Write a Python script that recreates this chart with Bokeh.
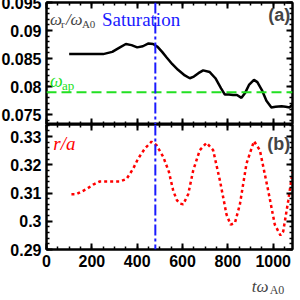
from bokeh.plotting import figure
from bokeh.models import LinearAxis, FixedTicker, Span, Label, Range1d
from bokeh.layouts import column
from bokeh.embed import file_html
from bokeh.resources import INLINE

# ---- data ----
t_freq = [100, 150, 200, 250, 290, 320, 350, 375, 400, 425, 450, 470, 490, 510, 530,
          555, 580, 610, 632, 650, 670, 691, 720, 745, 770, 786, 805, 823, 840, 860,
          875, 893, 915, 930, 950, 970, 992, 1010, 1037, 1055, 1072, 1092]
w_freq = [0.0858, 0.0858, 0.0858, 0.0858, 0.0862, 0.0869, 0.0876, 0.0874, 0.0870, 0.0872,
          0.0877, 0.0876, 0.0871, 0.0862, 0.0852, 0.0840, 0.0830, 0.0820, 0.0815, 0.0818,
          0.0824, 0.0829, 0.0826, 0.0815, 0.0797, 0.0786, 0.0786, 0.0785, 0.0785, 0.0780,
          0.0788, 0.0803, 0.0812, 0.0808, 0.0794, 0.0775, 0.0763, 0.0764, 0.0765, 0.0764,
          0.0763, 0.0771]

t_r = [110, 132, 176, 206, 235, 280, 324, 353, 382, 404, 434, 463, 485, 515, 540, 559,
       575, 588, 603, 625, 647, 676, 706, 735, 765, 794, 812, 831, 853, 882, 915, 941,
       978, 1007, 1032, 1044, 1066, 1085]
r_a = [0.3096, 0.3096, 0.3114, 0.3130, 0.3141, 0.3141, 0.3141, 0.3150, 0.3186, 0.3222,
       0.3258, 0.3282, 0.3270, 0.3228, 0.3175, 0.3108, 0.3075, 0.3063, 0.3060, 0.3096,
       0.3180, 0.3252, 0.3278, 0.3252, 0.3144, 0.3024, 0.2988, 0.2994, 0.3060, 0.3204,
       0.3284, 0.3252, 0.3108, 0.2988, 0.2950, 0.2964, 0.3072, 0.3174]

t_sat = 480
w_ap = 0.079

x_ticks = [0, 200, 400, 600, 800, 1000]
x_labels = ["0", "200", "400", "600", "800", "1000"]
x_minor = list(range(0, 1101, 50))
ya_ticks = [0.075, 0.08, 0.085, 0.09, 0.095]
ya_labels = ["0.075", "0.08", "0.085", "0.09", "0.095"]
ya_minor = [0.073 + 0.001 * i for i in range(23)]
yb_ticks = [0.29, 0.3, 0.31, 0.32, 0.33]
yb_labels = ["0.29", "0.3", "0.31", "0.32", "0.33"]
yb_minor = [0.29 + 0.002 * i for i in range(23)]

X0, X1 = 0, 1085
xr = Range1d(X0, X1)

BLUE = "#1a1aff"
GREEN = "#22e022"
RED = "#ff0000"


def style_axis(ax, ticks, minor, labels=None):
    ax.ticker = FixedTicker(ticks=ticks, minor_ticks=minor)
    ax.major_tick_in = 6
    ax.major_tick_out = 0
    ax.minor_tick_in = 3
    ax.minor_tick_out = 0
    ax.axis_line_width = 2
    ax.major_tick_line_width = 2
    ax.minor_tick_line_width = 1.5
    ax.axis_line_color = "black"
    if labels is None:
        ax.major_label_overrides = {k: "" for k in ticks}
        ax.major_label_text_font_size = "1px"
        ax.major_label_standoff = 0
    else:
        ax.major_label_overrides = {k: v for k, v in zip(ticks, labels)}
        ax.major_label_text_font = "Liberation Sans"
        ax.major_label_text_font_style = "bold"
        ax.major_label_text_font_size = "16px"
        ax.major_label_text_color = "black"
        ax.major_label_standoff = 5


def make_fig(yr, fh, top, bottom, outline=True):
    p = figure(frame_width=246, frame_height=fh, x_range=xr, y_range=yr,
               output_backend="svg", toolbar_location=None,
               x_axis_location=None, y_axis_location=None,
               min_border_left=50, min_border_right=4, min_border_top=top,
               min_border_bottom=bottom)
    p.grid.visible = False
    p.outline_line_color = "black" if outline else None
    p.outline_line_width = 2
    p.background_fill_color = "white"
    p.border_fill_color = "white"
    return p


serif = "Liberation Serif"

# ---- panel (a) ----
pa = make_fig(Range1d(0.07325, 0.095), 122, 6, 0)
la = LinearAxis(); style_axis(la, ya_ticks, ya_minor, ya_labels); pa.add_layout(la, "left")
ra = LinearAxis(); style_axis(ra, ya_ticks, ya_minor); pa.add_layout(ra, "right")
ta = LinearAxis(); style_axis(ta, x_ticks, x_minor); pa.add_layout(ta, "above")
ba = LinearAxis(); style_axis(ba, x_ticks, x_minor); pa.add_layout(ba, "below")

pa.add_layout(Span(location=w_ap, dimension="width", line_color=GREEN,
                   line_width=2, line_dash="10 5"))
pa.add_layout(Span(location=t_sat, dimension="height", line_color=BLUE,
                   line_width=2, line_dash="11 3 3 3"))
pa.line(t_freq, w_freq, line_color="black", line_width=2.5)

ya_lab = 0.0919
pa.add_layout(Label(x=15, y=ya_lab, text="ω", text_font=serif, text_font_style="italic",
                    text_font_size="17px", text_baseline="alphabetic"))
pa.add_layout(Label(x=15, y=ya_lab, x_offset=11, y_offset=-4, text="r", text_font=serif,
                    text_font_size="11px", text_baseline="alphabetic"))
pa.add_layout(Label(x=15, y=ya_lab, x_offset=16, text="/ω", text_font=serif,
                    text_font_style="italic", text_font_size="17px", text_baseline="alphabetic"))
pa.add_layout(Label(x=15, y=ya_lab, x_offset=32, y_offset=-4, text="A0", text_font=serif,
                    text_font_size="11px", text_baseline="alphabetic"))
pa.add_layout(Label(x=245, y=ya_lab, text="Saturation", text_font=serif,
                    text_font_size="19px", text_color=BLUE, text_baseline="alphabetic"))
pa.add_layout(Label(x=1075, y=0.0927, text="(a)", text_font="Liberation Sans",
                    text_font_style="bold", text_font_size="18px", text_align="right",
                    text_baseline="middle"))
pa.add_layout(Label(x=15, y=0.0810, text="ω", text_font=serif, text_font_style="italic",
                    text_font_size="18px", text_color=GREEN, text_baseline="alphabetic"))
pa.add_layout(Label(x=15, y=0.0810, x_offset=12, y_offset=-4, text="ap", text_font=serif,
                    text_font_size="13px", text_color=GREEN, text_baseline="alphabetic"))

# ---- panel (b) ----
pb = make_fig(Range1d(0.29, 0.3343), 125, 0, 24)
lb = LinearAxis(); style_axis(lb, yb_ticks, yb_minor, yb_labels); pb.add_layout(lb, "left")
rb = LinearAxis(); style_axis(rb, yb_ticks, yb_minor); pb.add_layout(rb, "right")
tb = LinearAxis(); style_axis(tb, x_ticks, x_minor); pb.add_layout(tb, "above")
bb = LinearAxis(); style_axis(bb, x_ticks, x_minor, x_labels); pb.add_layout(bb, "below")
bb.major_label_standoff = 5

pb.add_layout(Span(location=t_sat, dimension="height", line_color=BLUE,
                   line_width=2, line_dash="11 3 3 3"))
pb.line(t_r, r_a, line_color=RED, line_width=2.5, line_dash="3 3")

pb.add_layout(Label(x=30, y=0.3277, text="r/a", text_font=serif, text_font_style="italic",
                    text_font_size="19px", text_color=RED, text_baseline="alphabetic"))
pb.add_layout(Label(x=1075, y=0.3275, text="(b)", text_font="Liberation Sans",
                    text_font_style="bold", text_font_size="18px", text_align="right",
                    text_baseline="middle"))

# ---- strip under the axis holding the x-axis title ----
pc = make_fig(Range1d(0, 1), 23, 0, 0, outline=False)
pc.add_layout(Label(x=905, y=0.45, text="tω", text_font=serif, text_font_style="italic",
                    text_font_size="17px", text_baseline="alphabetic"))
pc.add_layout(Label(x=905, y=0.45, x_offset=18, y_offset=-4, text="A0", text_font=serif,
                    text_font_size="12px", text_baseline="alphabetic"))

layout = column(pa, pb, pc, styles={"margin": "-4px -4px -4px -4px"})
open("out.html", "w").write(file_html(layout, INLINE))
